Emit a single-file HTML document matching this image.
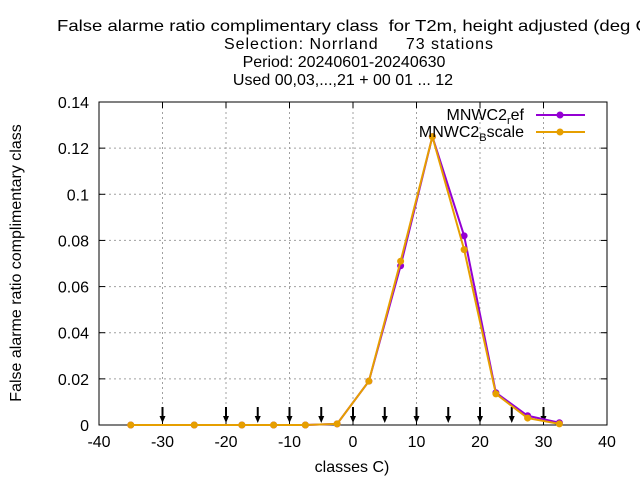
<!DOCTYPE html>
<html><head><meta charset="utf-8"><style>body{margin:0;background:#fff}svg{display:block;font-family:"Liberation Sans",sans-serif}text{white-space:pre}</style></head>
<body>
<svg id="c" width="640" height="480">
<g font-size="16" text-anchor="middle">
<text x="57" y="31" text-anchor="start" textLength="598" lengthAdjust="spacingAndGlyphs">False alarme ratio complimentary class  for T2m, height adjusted (deg C)</text>
<text x="224" y="49" text-anchor="start" textLength="269" lengthAdjust="spacing">Selection: Norrland     73 stations</text>
<text x="344" y="67">Period: 20240601-20240630</text>
<text x="343" y="85">Used 00,03,...,21 + 00 01 ... 12</text>
</g>
<text font-size="16" text-anchor="middle" transform="translate(21,263) rotate(-90)">False alarme ratio complimentary class</text>
<text font-size="16" text-anchor="middle" x="352" y="472">classes C)</text>
<g id="grid"></g><g id="axes"></g><g id="series"></g>
<g font-size="16" text-anchor="end">
<text x="524" y="120">MNWC2<tspan font-size="11" dy="4">r</tspan><tspan dy="-4">ef</tspan></text>
<line x1="536" y1="115" x2="585" y2="115" stroke="#9400d3" stroke-width="2"/><circle cx="560" cy="115" r="3.5" fill="#9400d3"/>
<text x="524" y="137">MNWC2<tspan font-size="11" dy="4">B</tspan><tspan dy="-4">scale</tspan></text>
<line x1="536" y1="132" x2="585" y2="132" stroke="#e69f00" stroke-width="2"/><circle cx="560" cy="132" r="3.5" fill="#e69f00"/>
</g>
</svg>
<script>
const xClasses=[-35,-25,-17.5,-12.5,-7.5,-2.5,2.5,7.5,12.5,17.5,22.5,27.5,32.5];
const refValues=[0,0,0,0,0,0.0005,0.019,0.069,0.125,0.082,0.014,0.004,0.001];
const bscaleValues=[0,0,0,0,0,0.0005,0.019,0.071,0.125,0.076,0.0135,0.003,0.0005];
const xTicks=[-40,-30,-20,-10,0,10,20,30,40];
const yTicks=[0,0.02,0.04,0.06,0.08,0.1,0.12,0.14];
const yTickLabels=["0","0.02","0.04","0.06","0.08","0.1","0.12","0.14"];
const arrowX=[-30,-20,-15,-10,-5,0,5,10,15,20,25,30];
const NS="http://www.w3.org/2000/svg";
const X=v=>99+(v+40)*508/80, Y=v=>425-v/0.14*323;
function mk(p,t,a){const e=document.createElementNS(NS,t);for(const k in a)e.setAttribute(k,a[k]);p.appendChild(e);return e;}
const grid=document.getElementById('grid'),axes=document.getElementById('axes'),ser=document.getElementById('series');
xTicks.forEach(t=>{const x=X(t);
 if(t>-40&&t<40){const g=mk(grid,'line',{x1:x,x2:x,y1:102,y2:425,stroke:'#a0a0a0','stroke-dasharray':'2,3'});
 
 }
 mk(axes,'line',{x1:x,x2:x,y1:425,y2:419,stroke:'#000'});mk(axes,'line',{x1:x,x2:x,y1:102,y2:108,stroke:'#000'});
 const l=mk(axes,'text',{x:x,y:447,'font-size':16,'text-anchor':'middle'});l.textContent=t;
 
 });
yTicks.forEach((t,i)=>{const y=Y(t);
 if(t>0&&t<0.14){const g=mk(grid,'line',{x1:99,x2:607,y1:y,y2:y,stroke:'#a0a0a0','stroke-dasharray':'2,3'});
 
 }
 mk(axes,'line',{x1:99,x2:105,y1:y,y2:y,stroke:'#000'});mk(axes,'line',{x1:607,x2:601,y1:y,y2:y,stroke:'#000'});
 const l=mk(axes,'text',{x:89,y:y+6,'font-size':16,'text-anchor':'end'});l.textContent=yTickLabels[i];
 
 });
const fr=mk(axes,'rect',{x:99,y:102,width:508,height:323,fill:'none',stroke:'#000'});


arrowX.forEach(a=>{const x=X(a);const g=mk(ser,'g',{});
 
 
 mk(g,'line',{x1:x,x2:x,y1:407,y2:420,stroke:'#000','stroke-width':2});
 mk(g,'path',{d:`M${x-3},${416}L${x+3},${416}L${x},${423}Z`,fill:'#000'});});
function series(vals,col,name){const g=mk(ser,'g',{});
 
 
 mk(g,'polyline',{points:vals.map((v,i)=>X(xClasses[i])+','+Y(v)).join(' '),fill:'none',stroke:col,'stroke-width':2});
 vals.forEach((v,i)=>{const c=mk(g,'circle',{cx:X(xClasses[i]),cy:Y(v),r:3.5,fill:col});
 
 });}
series(refValues,'#9400d3','series-mnwc2-ref');
series(bscaleValues,'#e69f00','series-mnwc2-bscale');
</script>
</body></html>
